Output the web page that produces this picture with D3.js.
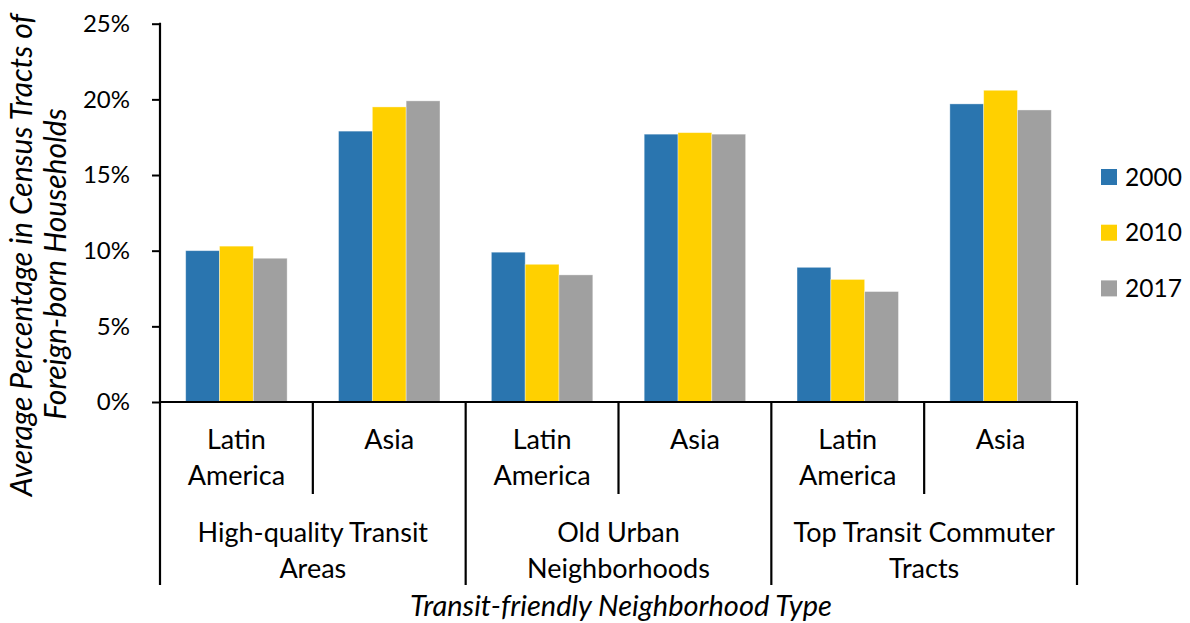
<!DOCTYPE html>
<html>
<head>
<meta charset="utf-8">
<script src="https://cdn.jsdelivr.net/npm/d3@7"></script>
<style>
  html, body { margin: 0; padding: 0; background: #fff; }
  svg { display: block; }
  text { font-family: Lato, "Open Sans", sans-serif; fill: #000; }
</style>
</head>
<body>
<svg id="chart" width="1190" height="623"></svg>
<script>
// ---- data ----
const groups = ["High-quality Transit Areas", "Old Urban Neighborhoods", "Top Transit Commuter Tracts"];
const groupLines = [["High-quality Transit", "Areas"], ["Old Urban", "Neighborhoods"], ["Top Transit Commuter", "Tracts"]];
const regions = ["Latin America", "Asia"];
const regionLines = [["Latin", "America"], ["Asia"]];
const seriesNames = ["2000", "2010", "2017"];
const values2000 = [0.100, 0.179, 0.099, 0.177, 0.089, 0.197];
const values2010 = [0.103, 0.195, 0.091, 0.178, 0.081, 0.206];
const values2017 = [0.095, 0.199, 0.084, 0.177, 0.073, 0.193];
const yTicks = [0, 0.05, 0.10, 0.15, 0.20, 0.25];
const colors = ["#2A75AF", "#FFD000", "#A0A0A0"];
const yTitle = ["Average Percentage in Census Tracts of", "Foreign-born Households"];
const xTitle = "Transit-friendly Neighborhood Type";

// ---- layout ----
const svg = d3.select("#chart");
const x0 = 160, x1 = 1077, yTop = 23.7, yBase = 402, axisBottom = 585, shortBottom = 494;

const cats = [];
groups.forEach((g, gi) => regions.forEach((r, ri) => cats.push({g: gi, r: ri, key: gi + "-" + ri})));
const seriesVals = [values2000, values2010, values2017];

const x = d3.scaleBand().domain(cats.map(c => c.key)).range([x0, x1]).padding(0);
const xs = d3.scaleBand().domain(seriesNames).range([0, x.bandwidth()]).paddingInner(0).paddingOuter(0.76);
const y = d3.scaleLinear().domain([0, 0.25]).range([yBase, yTop]);

// bars
seriesNames.forEach((s, si) => {
  svg.append("g").selectAll("rect").data(cats).join("rect")
    .attr("x", (d) => x(d.key) + xs(s))
    .attr("width", xs.bandwidth())
    .attr("y", (d, i) => y(seriesVals[si][i]))
    .attr("height", (d, i) => y(0) - y(seriesVals[si][i]))
    .attr("fill", colors[si])
    .attr("stroke", "#fff").attr("stroke-opacity", 0.45).attr("stroke-width", 0.8);
});

// y axis
const yAxis = svg.append("g").attr("transform", `translate(${x0},0)`)
  .call(d3.axisLeft(y).tickValues(yTicks).tickSize(8).tickPadding(22).tickFormat(d3.format(".0%")));
yAxis.select(".domain").remove();
yAxis.selectAll(".tick line").attr("stroke", "#000").attr("stroke-width", 2);
yAxis.selectAll(".tick text").style("font-size", "24px").attr("font-family", "Lato, sans-serif");

const lines = svg.append("g").attr("stroke", "#000").attr("stroke-width", 2.2).attr("fill", "none");
lines.append("line").attr("x1", x0).attr("x2", x0).attr("y1", yTop - 1).attr("y2", axisBottom);
lines.append("line").attr("x1", x0).attr("x2", x1 + 1).attr("y1", yBase).attr("y2", yBase);
cats.forEach((c) => {
  const xr = x(c.key) + x.bandwidth();
  lines.append("line").attr("x1", xr).attr("x2", xr).attr("y1", yBase)
    .attr("y2", c.r === regions.length - 1 ? axisBottom : shortBottom);
});

// region labels
cats.forEach(c => {
  const cx = x(c.key) + x.bandwidth() / 2;
  const t = svg.append("text").attr("text-anchor", "middle").style("font-size", "27px");
  regionLines[c.r].forEach((ln, li) => {
    t.append("tspan").attr("x", cx).attr("y", 449 + li * 36).text(ln);
  });
});

// group labels
groups.forEach((g, gi) => {
  const cx = x(gi + "-0") + x.bandwidth();
  const t = svg.append("text").attr("text-anchor", "middle").style("font-size", "27px");
  groupLines[gi].forEach((ln, li) => {
    t.append("tspan").attr("x", cx).attr("y", 542 + li * 36).text(ln);
  });
});

// x title
svg.append("text").attr("x", 621).attr("y", 616).attr("text-anchor", "middle")
  .style("font-size", "29px").style("font-style", "italic").text(xTitle);

// y title
const yTitleCenters = [255, 264];
const yTitleBaselines = [32, 66];
yTitle.forEach((ln, li) => {
  svg.append("text").attr("transform", `translate(0,${yTitleCenters[li]}) rotate(-90)`)
    .attr("x", 0).attr("y", yTitleBaselines[li])
    .attr("text-anchor", "middle").style("font-size", "30px").style("font-style", "italic").text(ln);
});

// legend
const legend = svg.append("g");
seriesNames.forEach((s, si) => {
  const cy = 177 + si * 55.7;
  legend.append("rect").attr("x", 1101).attr("y", cy - 8).attr("width", 16).attr("height", 16).attr("fill", colors[si]);
  legend.append("text").attr("x", 1125).attr("y", cy).attr("dy", "0.35em").style("font-size", "24.5px").text(s);
});
</script>
</body>
</html>
